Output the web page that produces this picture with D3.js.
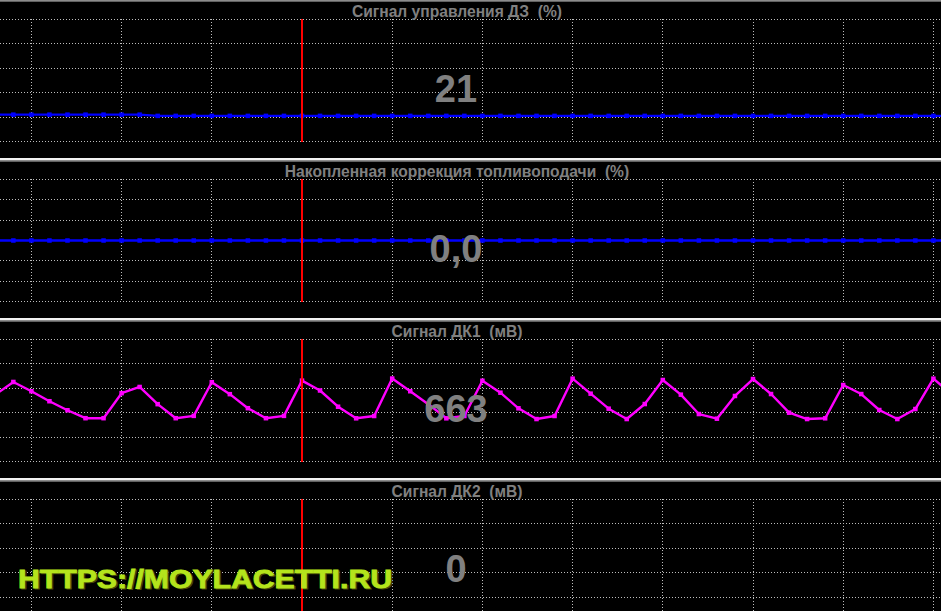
<!DOCTYPE html>
<html>
<head>
<meta charset="utf-8">
<script src="https://cdn.jsdelivr.net/npm/d3@7"></script>
<style>
html,body{margin:0;padding:0;background:#000;}
svg{display:block;}
text{white-space:pre;}
</style>
</head>
<body>
<svg id="chart" width="941" height="611"></svg>
<script>
// ---------- DATA ----------
const panelTitles = [
  "Сигнал управления ДЗ  (%)",
  "Накопленная коррекция топливоподачи  (%)",
  "Сигнал ДК1  (мВ)",
  "Сигнал ДК2  (мВ)"
];
const readouts = ["21", "0,0", "663", "0"];
const sampleIndex = d3.range(-2, 52);   // sample numbers, -2 .. 51
const cursorIndex = 15;

// series values (one per sample, from sample -2 to 51)
const throttleSignal = [
  22,22,22,22,22,22,22,22,22,
  21,21,21,21,21,21,21,21,21,21,21,21,21,21,21,21,21,21,21,21,21,21,
  21,21,21,21,21,21,21,21,21,21,21,21,21,21,21,21,21,21,21,21,21,21,21
];
const fuelTrim = [
  0,0,0,0,0,0,0,0,0,0,0,0,0,0,0,0,0,0,0,0,0,0,0,0,0,0,0,
  0,0,0,0,0,0,0,0,0,0,0,0,0,0,0,0,0,0,0,0,0,0,0,0,0,0,0
];
const o2Sensor1 = [
  548,652,576,494,420,355,355,560,611,470,355,374,650,552,437,355,374,663,
  582,449,354,373,680,576,470,354,373,662,564,436,348,373,679,556,433,348,
  471,668,548,389,351,537,676,553,400,348,354,627,553,422,348,430,679,553
];
const o2Sensor2 = [
  0,0,0,0,0,0,0,0,0,0,0,0,0,0,0,0,0,0,0,0,0,0,0,0,0,0,0,
  0,0,0,0,0,0,0,0,0,0,0,0,0,0,0,0,0,0,0,0,0,0,0,0,0,0,0
];
const seriesValues = [throttleSignal, fuelTrim, o2Sensor1, o2Sensor2];
const yDomains = [[0, 100], [-30, 30], [0, 1000], [0, 1000]];
const yTicks = [
  [0, 20, 40, 60, 80, 100],
  [-30, -20, -10, 0, 10, 20, 30],
  [0, 200, 400, 600, 800, 1000],
  [0, 200, 400, 600, 800, 1000]
];
const xTicks = [0, 5, 10, 15, 20, 25, 30, 35, 40, 45, 50];
const seriesColors = ["#0000ff", "#0000ff", "#ff00ff", "#ff00ff"];
const watermark = "HTTPS://MOYLACETTI.RU";

// ---------- LAYOUT ----------
const W = 941, H = 611;
const panelH = 160;
const plotTop = 19.5, plotBottom = 141.5;

const svg = d3.select("#chart");
svg.append("rect").attr("width", W).attr("height", H).attr("fill", "#000");

const x = d3.scaleLinear().domain([0, 50]).range([31.4, 933.4]);

seriesValues.forEach((vals, k) => {
  const g = svg.append("g").attr("transform", `translate(0,${k * panelH})`);
  const y = d3.scaleLinear().domain(yDomains[k]).range([plotBottom, plotTop]);

  // separator
  if (k > 0) {
    g.append("rect").attr("x", 0).attr("y", -2).attr("width", W).attr("height", 2).attr("fill", "#f2f2f2");
  }
  g.append("rect").attr("x", 0).attr("y", 0).attr("width", W).attr("height", 1.7).attr("fill", "#8c8c8c");

  // horizontal grid lines
  g.append("g").selectAll("line").data(yTicks[k]).join("line")
    .attr("x1", 0).attr("x2", W)
    .attr("y1", d => Math.round(y(d) - 0.5) + 0.5)
    .attr("y2", d => Math.round(y(d) - 0.5) + 0.5)
    .attr("stroke", "#bdbdbd").attr("stroke-width", 1)
    .attr("stroke-dasharray", "1,2")
    .attr("shape-rendering", "crispEdges");

  // vertical grid lines
  g.append("g").selectAll("line").data(xTicks).join("line")
    .attr("x1", d => Math.round(x(d) - 0.5) + 0.5).attr("x2", d => Math.round(x(d) - 0.5) + 0.5)
    .attr("y1", Math.floor(plotTop)).attr("y2", Math.ceil(plotBottom))
    .attr("stroke", "#bdbdbd").attr("stroke-width", 1)
    .attr("stroke-dasharray", "1,2")
    .attr("shape-rendering", "crispEdges");

  // title
  g.append("text")
    .attr("x", 457).attr("y", 16.5)
    .attr("text-anchor", "middle")
    .attr("xml:space", "preserve")
    .attr("font-family", "'Liberation Sans', Arial, sans-serif")
    .attr("font-weight", "bold").attr("font-size", "15.6px")
    .attr("fill", "#808080")
    .text(panelTitles[k]);

  // series line + markers
  const pts = sampleIndex.map((s, i) => [s, vals[i]]);
  const clipId = "clip" + k;
  g.append("clipPath").attr("id", clipId).append("rect")
    .attr("x", 0).attr("y", 2).attr("width", W).attr("height", panelH - 4);
  const sg = g.append("g").attr("clip-path", `url(#${clipId})`);
  sg.append("path")
    .datum(pts)
    .attr("d", d3.line().x(d => x(d[0])).y(d => y(d[1])))
    .attr("fill", "none")
    .attr("stroke", seriesColors[k]).attr("stroke-width", 2.4)
    .attr("stroke-linejoin", "round");
  sg.append("g").selectAll("rect").data(pts).join("rect")
    .attr("x", d => x(d[0]) - 2.25).attr("y", d => y(d[1]) - 2.25)
    .attr("width", 4.5).attr("height", 4.5)
    .attr("fill", seriesColors[k]);

  // readout
  g.append("text")
    .attr("x", 456).attr("y", 101.7)
    .attr("text-anchor", "middle")
    .attr("font-family", "'Liberation Sans', Arial, sans-serif")
    .attr("font-weight", "bold").attr("font-size", "38px")
    .attr("fill", "#808080")
    .text(readouts[k]);

  // cursor
  const cx = Math.round(x(cursorIndex));
  g.append("line")
    .attr("x1", cx).attr("x2", cx)
    .attr("y1", Math.floor(plotTop)).attr("y2", Math.ceil(plotBottom))
    .attr("stroke", "#ff0000").attr("stroke-width", 2)
    .attr("shape-rendering", "crispEdges");
});

// watermark
const wm = svg.append("g");
wm.append("text")
  .attr("x", 19.5).attr("y", 588.5)
  .attr("textLength", 374).attr("lengthAdjust", "spacingAndGlyphs")
  .attr("font-family", "'Liberation Sans', Arial, sans-serif")
  .attr("font-weight", "bold").attr("font-size", "25px")
  .attr("fill", "#4a4a08").attr("stroke", "#4a4a08").attr("stroke-width", 0.8)
  .text(watermark);
wm.append("text")
  .attr("x", 18).attr("y", 587.5)
  .attr("textLength", 374).attr("lengthAdjust", "spacingAndGlyphs")
  .attr("font-family", "'Liberation Sans', Arial, sans-serif")
  .attr("font-weight", "bold").attr("font-size", "25px")
  .attr("fill", "#b4e41c").attr("stroke", "#b4e41c").attr("stroke-width", 0.8)
  .text(watermark);
</script>
</body>
</html>
